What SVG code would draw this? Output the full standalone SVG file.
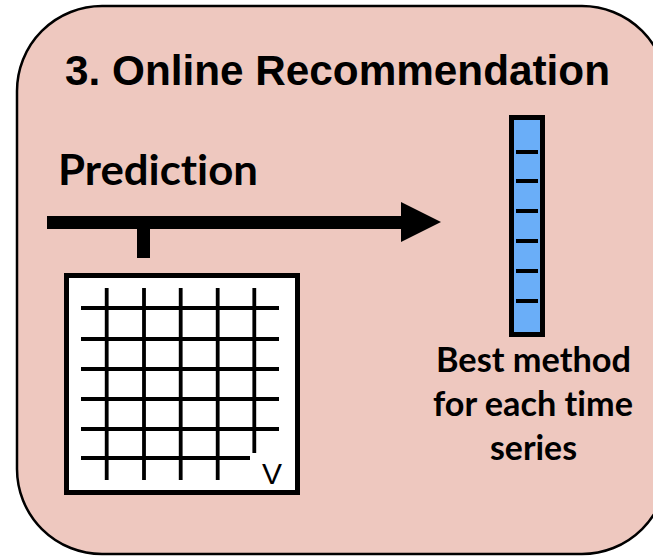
<svg xmlns="http://www.w3.org/2000/svg" width="653" height="556" viewBox="0 0 653 556">
<style>
.title{font-family:"Liberation Sans",Arial,sans-serif;font-weight:bold;font-size:43px;fill:#000}
.lbl{font-family:Lato,"Open Sans",sans-serif;font-weight:bold;fill:#000;font-variant-ligatures:none;font-feature-settings:"liga" 0}
.grid line{stroke:#000;stroke-width:3.8}
.tick{stroke:#000;stroke-width:4}
</style>
<rect width="653" height="556" fill="#fff"/>
<g id="panel">
<rect x="17" y="6" width="650" height="548" rx="85" ry="85" fill="#EEC8BF" stroke="#000" stroke-width="2.5"/>
<text class="title" x="65" y="85" textLength="545" lengthAdjust="spacingAndGlyphs">3. Online Recommendation</text>
</g>
<g id="prediction-label">
<text class="lbl" x="58" y="185" font-size="42" textLength="200" lengthAdjust="spacingAndGlyphs">Prediction</text>
</g>
<g id="connectors">
<rect x="47" y="216" width="356" height="13" fill="#000"/>
<polygon points="401,202 441,222 401,242" fill="#000"/>
<rect x="137" y="228" width="13" height="30" fill="#000"/>
</g>
<g id="matrix">
<rect x="66.5" y="275.5" width="231" height="217" fill="#fff" stroke="#000" stroke-width="5"/>
<g class="grid">
<line x1="106.7" y1="288" x2="106.7" y2="480"/>
<line x1="144" y1="288" x2="144" y2="480"/>
<line x1="180.7" y1="288" x2="180.7" y2="480"/>
<line x1="217.7" y1="288" x2="217.7" y2="480"/>
<line x1="254.3" y1="288" x2="254.3" y2="453"/>
<line x1="81" y1="308" x2="279" y2="308"/>
<line x1="81" y1="339" x2="279" y2="339"/>
<line x1="81" y1="369" x2="279" y2="369"/>
<line x1="81" y1="399" x2="279" y2="399"/>
<line x1="81" y1="429" x2="279" y2="429"/>
<line x1="81" y1="458" x2="250" y2="458"/>
</g>
<text x="262" y="484" font-family="Liberation Sans,Arial,sans-serif" font-size="30" fill="#000">V</text>
</g>
<g id="best-method">
<rect x="511.5" y="117.5" width="31" height="217" fill="#6AAEF8" stroke="#000" stroke-width="5"/>
<line class="tick" x1="516" y1="152" x2="538" y2="152"/>
<line class="tick" x1="516" y1="181" x2="538" y2="181"/>
<line class="tick" x1="516" y1="211" x2="538" y2="211"/>
<line class="tick" x1="516" y1="241" x2="538" y2="241"/>
<line class="tick" x1="516" y1="271" x2="538" y2="271"/>
<line class="tick" x1="516" y1="301" x2="538" y2="301"/>
<text class="lbl" font-size="35" x="436" y="372" textLength="195" lengthAdjust="spacingAndGlyphs">Best method</text>
<text class="lbl" font-size="35" x="433" y="416" textLength="200" lengthAdjust="spacingAndGlyphs">for each time</text>
<text class="lbl" font-size="35" x="490" y="460" textLength="87" lengthAdjust="spacingAndGlyphs">series</text>
</g>
</svg>
